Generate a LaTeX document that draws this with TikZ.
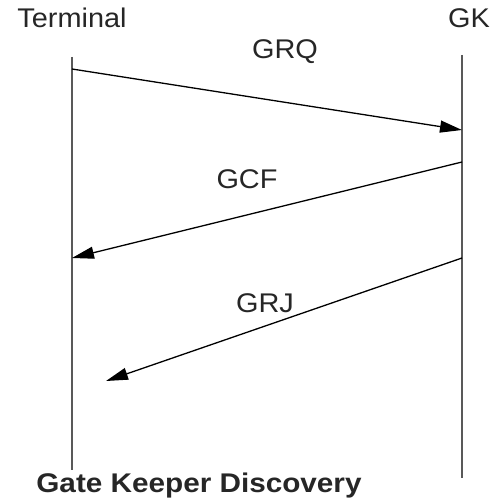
\documentclass[tikz,border=0pt]{standalone}
\usepackage{fontspec}
\setmainfont{Liberation Sans}
\usetikzlibrary{arrows.meta}
\newcommand{\wid}[1]{\scalebox{1.07}[1]{#1}}
\begin{document}
\begin{tikzpicture}[x=1pt,y=-1pt,
  lbl/.style={inner sep=0pt,font=\fontsize{27}{30}\selectfont,text=black!85},
  life/.style={draw=black!65,line width=1.8pt},
  msg/.style={draw=black,line width=1.3pt,-{Triangle[length=22pt,width=12pt]}}]
\useasboundingbox (0,0) rectangle (494,502);
\node[lbl,anchor=base] (term) at (72,28) {\wid{Terminal}};
\node[lbl,anchor=base] (gk) at (469,28) {\wid{GK}};
\coordinate (lt) at (72,57);
\coordinate (lb) at (72,470);
\coordinate (rt) at (462,55);
\coordinate (rb) at (462,478);
\draw[life] (lt) -- (lb);
\draw[life] (rt) -- (rb);
\coordinate (a1) at (72,69);
\coordinate (b1) at (462,130);
\coordinate (a2) at (462,162);
\coordinate (b2) at (72,258);
\coordinate (a3) at (462,258);
\coordinate (b3) at (106,381);
\draw[msg] (a1) -- (b1);
\draw[msg] (a2) -- (b2);
\draw[msg] (a3) -- (b3);
\node[lbl,anchor=base] (grq) at (285,59) {\wid{GRQ}};
\node[lbl,anchor=base] (gcf) at (247,189) {\wid{GCF}};
\node[lbl,anchor=base] (grj) at (265,312) {\wid{GRJ}};
\node[lbl,anchor=base,font=\bfseries\fontsize{27}{30}\selectfont] (title) at (199,492) {\scalebox{1.1}[1]{Gate Keeper Discovery}};
\end{tikzpicture}
\end{document}
